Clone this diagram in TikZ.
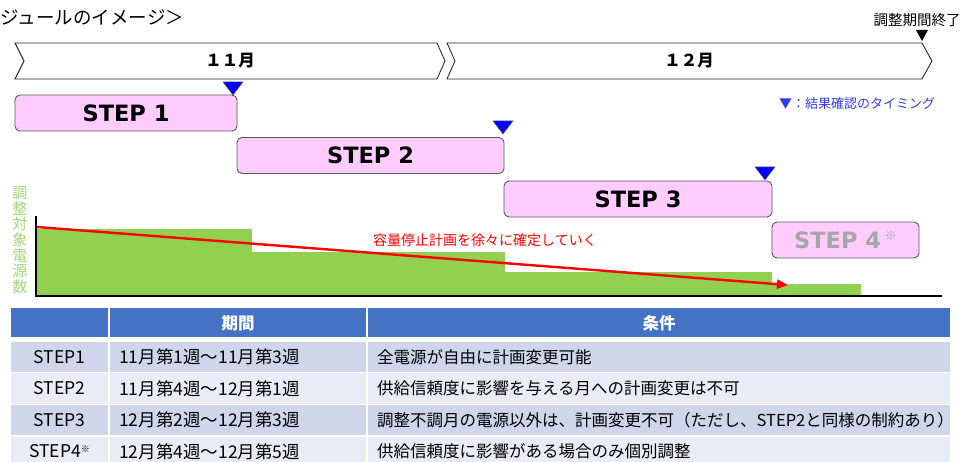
\documentclass[tikz,border=0pt]{standalone}
\usepackage{fontspec}
\setmainfont{Noto Sans CJK JP}
\newfontfamily\stepfont{DejaVu Sans}
\usetikzlibrary{positioning,shapes,arrows.meta,calc}

\definecolor{stepfill}{HTML}{FFCCFF}
\definecolor{stepline}{HTML}{595959}
\definecolor{barfill}{HTML}{92D050}
\definecolor{axislabel}{HTML}{A2D77A}
\definecolor{headfill}{HTML}{4472C4}
\definecolor{rowdark}{HTML}{CFD5EA}
\definecolor{rowlight}{HTML}{E9EBF5}
\definecolor{markblue}{HTML}{0000FF}
\definecolor{legendblue}{HTML}{2E3BEF}
\definecolor{planred}{HTML}{FF0000}

\tikzset{
  monthline/.style={draw=black!85, line width=0.9pt},
  monthtext/.style={font=\fontsize{16.5}{16.5}\selectfont\bfseries},
  stepbox/.style={draw=stepline, fill=stepfill, rounded corners=5pt, line width=0.9pt,
    minimum height=36, inner sep=0pt, font=\stepfont\fontsize{22.5}{22.5}\selectfont\bfseries},
  cellfont/.style={font=\fontsize{16.5}{16.5}\selectfont, inner sep=0pt},
  periodfont/.style={font=\fontsize{17.5}{17.5}\selectfont, inner sep=0pt},
  headfont/.style={font=\fontsize{16.5}{16.5}\selectfont\bfseries, inner sep=0pt, text=white},
}

\begin{document}
\begin{tikzpicture}[x=1pt,y=-1pt]
  \useasboundingbox (0,0) rectangle (967,462);
  % title
  \node[anchor=west, font=\fontsize{18.5}{18.5}\selectfont, inner sep=0pt] (title) at (0.5,17) {ジュールのイメージ＞};

  % the two months
  \draw[monthline] (15,43) -- (437,43) -- (445,61) -- (437,79) -- (15,79) -- (24,61) -- cycle;
  \draw[monthline] (447,43) -- (922,43) -- (932,61) -- (922,79) -- (447,79) -- (455,61) -- cycle;
  \node[monthtext] (nov) at (230,61) {１１月};
  \node[monthtext] (dec) at (689,61) {１２月};

  % end of the period
  \node[font=\fontsize{14.5}{14.5}\selectfont, inner sep=0pt] (endlabel) at (917,20) {調整期間終了};
  \fill (916,30) -- (928,30) -- (922,41) -- cycle;

  % steps
  \node[stepbox, minimum width=222] (step1) at (126,113) {STEP 1};
  \node[stepbox, minimum width=267] (step2) at (370.5,155.5) {STEP 2};
  \node[stepbox, minimum width=268] (step3) at (638,199) {STEP 3};
  \node[stepbox, minimum width=147, text=black!35] (step4) at (845.5,240)
    {STEP 4\,\raisebox{8pt}{\normalfont\fontsize{12}{12}\selectfont ※}};

  % check marks
  \foreach \x/\y in {233/82, 503/121, 765/167} {
    \draw[fill=markblue, draw=black!60, line width=0.5pt] ({\x-10},\y) -- ({\x+10},\y) -- (\x,{\y+13}) -- cycle;
  }
  \node[text=legendblue, font=\fontsize{13}{13}\selectfont, inner sep=0pt] (legend) at (857,104) {▼：結果確認のタイミング};

  % number of units
  \node[text=axislabel, align=center, inner sep=0pt,
    font=\fontsize{15}{15.7}\selectfont] (ylabel) at (20,240) {調\\整\\対\\象\\電\\源\\数};
  \foreach \a/\b/\top in {37/252/229, 252/505/252, 505/772/272, 772/861/284} {
    \fill[barfill] (\a,\top) rectangle (\b,295);
  }
  \coordinate (axtop) at (36,216);
  \coordinate (axend) at (942,296);
  \draw[line width=1.6pt] (axtop) |- (axend);

  \coordinate (planstart) at (37,227);
  \coordinate (planend) at (788,285);
  \draw[planred, line width=2.4pt, -{Triangle[length=11pt,width=9pt]}] (planstart) -- (planend);
  \node[text=planred, font=\fontsize{14}{14}\selectfont, inner sep=0pt] (plantext) at (485,240) {容量停止計画を徐々に確定していく};

  % table
  \fill[headfill] (11,308) rectangle (108,337);
  \fill[headfill] (110,308) rectangle (366,337);
  \fill[headfill] (368,308) rectangle (950,337);
  \node[headfont] (headperiod) at (238,323) {期間};
  \node[headfont] (headcond) at (659,323) {条件};
  \foreach \r/\c/\st/\pd/\cd in {
    1/rowdark/STEP1/11月第1週～11月第3週/全電源が自由に計画変更可能,
    2/rowlight/STEP2/11月第4週～12月第1週/供給信頼度に影響を与える月への計画変更は不可,
    3/rowdark/STEP3/12月第2週～12月第3週/調整不調月の電源以外は、計画変更不可（ただし、STEP2と同様の制約あり）,
    4/rowlight/{STEP4\raisebox{5pt}{\fontsize{9}{9}\selectfont ※}}/12月第4週～12月第5週/供給信頼度に影響がある場合のみ個別調整} {
    \pgfmathsetmacro{\top}{342+(\r-1)*31.5}
    \fill[\c] (11,\top) rectangle (108,\top+30);
    \fill[\c] (110,\top) rectangle (366,\top+30);
    \fill[\c] (368,\top) rectangle (950,\top+30);
    \node[periodfont] (st\r) at (59.5,\top+15) {\st};
    \node[periodfont, anchor=west] (pd\r) at (119,\top+15) {\pd};
    \node[cellfont, anchor=west] (cd\r) at (377,\top+15) {\cd};
  }
\end{tikzpicture}
\end{document}
